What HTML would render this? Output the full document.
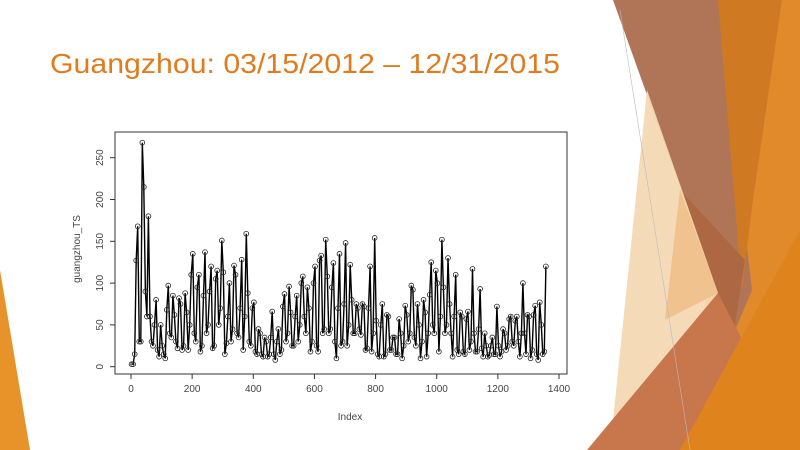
<!DOCTYPE html>
<html><head><meta charset="utf-8"><style>
html,body{margin:0;padding:0;background:#fff;}
svg{display:block;font-family:"Liberation Sans",sans-serif;}
</style></head><body>
<svg id="s" width="800" height="450" viewBox="0 0 800 450">
<g>
<polygon points="0,270 30,450 0,450" fill="#e8922a"/>
<polygon points="718,0 800,0 800,450 700,450" fill="#e08a2c"/>
<polygon points="613,0 718,0 752,290 733,335 718,293" fill="#b07556"/>
<polygon points="718,0 782,0 752,207 742,290" fill="#cf7a22"/>
<polygon points="680,190 718,293 733,335 745,260" fill="#ad6742"/>
<polygon points="647,90 718,293 612,430" fill="#f4d8b4" opacity="0.95"/>
<polygon points="680,190 718,293 665,320" fill="#efc28e"/>
<polygon points="587,450 718,293 745,345 700,450" fill="#c8764c"/>
<polygon points="800,230 800,450 680,450" fill="#df841c"/>
<line x1="620" y1="10" x2="690" y2="450" stroke="#bbb" stroke-width="0.6"/>
</g>
<text x="50" y="73" font-size="28" fill="#e07b1e" textLength="510" lengthAdjust="spacingAndGlyphs">Guangzhou: 03/15/2012 – 12/31/2015</text>
<rect x="115" y="132" width="452" height="242" fill="none" stroke="#333" stroke-width="1"/>
<g id="chart"></g>
<text x="350" y="420" font-size="10" fill="#444" text-anchor="middle">Index</text>
<text transform="translate(80,249) rotate(-90)" font-size="10" fill="#444" text-anchor="middle">guangzhou_TS</text>
</svg>
<script>
const xTicks=[0,200,400,600,800,1000,1200,1400];
const yTicks=[0,50,100,150,200,250];
const bucketHigh=[3,127,168,268,215,180,60,50,80,50,25,68,97,85,62,82,75,88,65,110,135,95,110,85,137,90,120,105,115,151,113,60,100,121,110,70,128,159,88,70,77,45,40,35,30,35,66,30,45,72,87,96,65,60,85,100,108,95,70,100,120,127,133,152,108,95,124,70,135,75,148,122,80,75,70,75,72,70,120,154,55,50,75,62,60,35,35,57,40,73,62,97,92,75,50,80,65,86,125,115,100,152,95,130,75,60,110,65,60,57,66,117,40,45,93,40,25,25,35,72,25,45,40,57,60,55,60,40,100,62,60,62,73,77,50,120];
const bucketLow=[3,15,30,30,90,60,30,25,20,12,15,10,40,35,30,22,20,25,20,50,40,30,18,25,40,50,22,25,50,70,15,28,30,45,40,35,20,60,30,25,18,15,15,12,12,15,15,8,15,20,30,40,25,25,30,50,60,40,18,30,25,18,40,45,40,45,30,10,25,30,25,50,40,40,45,38,20,22,18,40,15,12,12,15,20,20,15,15,10,25,30,40,35,25,10,30,12,40,50,40,18,60,40,50,40,12,20,15,18,15,20,30,18,18,22,12,12,14,15,15,12,18,20,25,30,25,30,12,40,15,10,20,15,8,15,18];
const NS='http://www.w3.org/2000/svg';
const g=document.getElementById('chart');
const X=i=>131+(i/1400)*(559-131);
const Y=v=>366.7-(v/250)*(366.7-157.7);
function mk(t,a){const e=document.createElementNS(NS,t);for(const k in a)e.setAttribute(k,a[k]);g.appendChild(e);return e;}
const idx=[],vals=[];
for(let b=0;b<bucketHigh.length;b++){
  const lo=b===0?2:b*10+2, hi=b===0?7:b*10+7;
  if(b%2===0){idx.push(lo,hi);vals.push(bucketHigh[b],bucketLow[b]);}
  else{idx.push(lo,hi);vals.push(bucketLow[b],bucketHigh[b]);}
}
let d='';
for(let k=0;k<idx.length;k++)d+=(k?'L':'M')+X(idx[k]).toFixed(1)+','+Y(vals[k]).toFixed(1);
const ln=mk('path',{d:d,fill:'none',stroke:'#000','stroke-width':'1.4'});


for(let k=0;k<idx.length;k++){
  const c=mk('circle',{cx:X(idx[k]),cy:Y(vals[k]),r:2.4,fill:'none',stroke:'#222','stroke-width':'0.8'});
  
  
}
mk('line',{x1:X(0),y1:374,x2:X(1400),y2:374,stroke:'#333'});
xTicks.forEach(t=>{
  mk('line',{x1:X(t),y1:374,x2:X(t),y2:379,stroke:'#333'});
  const tx=mk('text',{x:X(t),y:392,'font-size':10,fill:'#444','text-anchor':'middle'});
  tx.textContent=t;
  
  
});
mk('line',{x1:115,y1:Y(0),x2:115,y2:Y(250),stroke:'#333'});
yTicks.forEach(t=>{
  mk('line',{x1:110,y1:Y(t),x2:115,y2:Y(t),stroke:'#333'});
  const tx=mk('text',{transform:'translate(103,'+Y(t)+') rotate(-90)','font-size':10,fill:'#444','text-anchor':'middle'});
  tx.textContent=t;
  
  
});
</script>
</body></html>
